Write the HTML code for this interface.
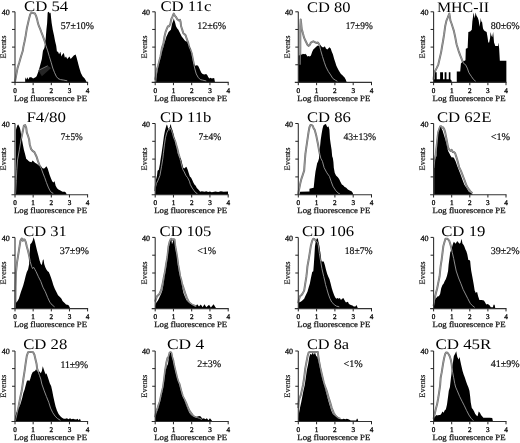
<!DOCTYPE html>
<html><head><meta charset="utf-8"><style>
html,body{margin:0;padding:0;background:#fff;}
svg{display:block;will-change:transform;}
text{font-family:"Liberation Serif",serif;fill:#111;text-rendering:geometricPrecision;}
.b{fill:#000;stroke:none;}
.g{fill:none;stroke:#727272;stroke-width:2.0;stroke-linejoin:round;}
.g2{fill:none;stroke:#9c9c9c;stroke-width:0.9;stroke-linejoin:round;}
.ax{fill:none;stroke:#333;stroke-width:1.1;}
.tk{fill:none;stroke:#222;stroke-width:1.0;}
.xl{font-size:7.2px;text-anchor:middle;fill:#111;stroke:#111;stroke-width:0.35;}
.xt{font-size:8.1px;fill:#111;stroke:#111;stroke-width:0.25;}
.yl{font-size:8px;text-anchor:end;fill:#111;stroke:#111;stroke-width:0.3;}
.ev{font-size:8.4px;text-anchor:middle;fill:#111;stroke:#111;stroke-width:0.15;}
.ti{font-size:14.6px;fill:#000;}
.pc{font-size:10.2px;fill:#111;stroke:#111;stroke-width:0.2;}
</style></head><body>
<svg width="520" height="443" viewBox="0 0 520 443" xmlns="http://www.w3.org/2000/svg">
<rect width="520" height="443" fill="#fff"/>
<g><polyline class="g" points="15,81.87 15.36,79.58 16.45,73.93 17.54,68.1 19.36,62.28 20.99,56.45 22.8,50.81 23.35,47.1 24.62,41.28 25.71,35.45 26.8,28.57 28.07,22.92 29.16,18.15 30.25,14.27 31.52,12.51 33.15,13.04 34.97,13.56 36.05,15.86 37.14,19.39 37.87,22.92 38.96,26.27 40.05,28.57 41.32,32.1 42.41,34.92 43.5,37.92 44.77,41.28 45.85,45.51 47.67,50.81 49.3,56.45 51.12,62.28 52.75,68.1 54.57,72.69 56.2,76.22 58.02,78.52 60.38,79.58 63.82,80.11 67.27,80.81"/><polygon class="b" points="25.16,82.4 25.16,82.4 25.16,77.28 26.25,79.58 27.34,77.28 28.43,79.58 29.52,77.28 31.34,77.28 33.15,78.52 35.51,77.28 36.6,76.22 38.41,71.46 40.05,65.81 41.86,58.93 42.95,50.81 44.4,47.98 45.13,43.57 45.85,36.69 46.4,29.8 47.13,22.92 47.67,12.51 48.76,11.8 49.85,13.56 50.57,12.51 51.12,18.15 51.66,22.92 52.75,29.8 54.02,35.45 55.11,41.28 56.2,45.86 56.93,51.51 58.02,51.87 59.1,54.16 60.38,51.87 61.46,56.45 62.55,54.16 63.82,53.1 64.91,57.69 66,56.45 67.27,58.93 68.36,57.69 69.45,56.45 70.72,58.93 71.81,57.69 73.81,55.4 75.62,54.51 76.53,57.16 77.44,60.69 78.34,64.22 79.25,67.75 80.88,73.05 82.7,76.58 84.51,78.34 86.15,80.99 86.69,82.4 86.69,82.4"/><polygon style="fill:#262626" points="38.41,70.4 47.67,65.81 51.12,68.1 41.86,76.22"/><polyline style="stroke:#8a8a8a;stroke-width:0.8;fill:none" points="38.41,70.4 47.67,65.81"/><polyline class="g2" points="15,81.87 15.36,79.58 16.45,73.93 17.54,68.1 19.36,62.28 20.99,56.45 22.8,50.81 23.35,47.1 24.62,41.28 25.71,35.45 26.8,28.57 28.07,22.92 29.16,18.15 30.25,14.27 31.52,12.51 33.15,13.04 34.97,13.56 36.05,15.86 37.14,19.39 37.87,22.92 38.96,26.27 40.05,28.57 41.32,32.1 42.41,34.92 43.5,37.92 44.77,41.28 45.85,45.51 47.67,50.81 49.3,56.45 51.12,62.28 52.75,68.1 54.57,72.69 56.2,76.22 58.02,78.52 60.38,79.58 63.82,80.11 67.27,80.81"/><path class="ax" d="M15 11.8V82.4M11.5 82.4H88.1" /><path class="tk" d="M12 64.75H15M12 47.1H15M12 29.45H15M12 11.8H15M15 82.4V85.2M33.15 82.4V85.2M51.3 82.4V85.2M69.45 82.4V85.2M87.6 82.4V85.2"/><text class="xl" x="15" y="93">0</text><text class="xl" x="33.15" y="93">1</text><text class="xl" x="51.3" y="93">2</text><text class="xl" x="69.45" y="93">3</text><text class="xl" x="87.6" y="93">4</text><text class="xt" x="14" y="100.7" textLength="73" lengthAdjust="spacingAndGlyphs">Log fluorescence PE</text><text class="yl" x="9.8" y="15.1">40</text><text class="ev" transform="translate(6.3 47) rotate(-90)" textLength="23" lengthAdjust="spacingAndGlyphs">Events</text><text class="ti" x="24" y="10.8" textLength="44.2" lengthAdjust="spacingAndGlyphs">CD 54</text><text class="pc" x="60.7" y="28.6" textLength="33.3" lengthAdjust="spacingAndGlyphs">57±10%</text></g>
<g><polyline class="g" points="155.2,79.75 155.75,77.28 156.66,70.4 158.12,65.81 160.49,56.45 162.13,47.28 163.41,43.57 164.51,36.51 165.6,31.92 166.88,28.57 167.97,26.27 169.07,26.27 170.35,23.98 171.26,19.21 172.35,16.92 173.27,14.62 173.81,13.56 174.91,15.86 176,16.92 177.28,19.21 178.92,20.45 180.02,19.74 180.57,21.68 181.11,26.27 182.21,29.63 183.3,33.16 184.58,34.22 185.68,35.45 186.77,38.98 188.05,42.33 189.14,46.92 190.42,49.75 191.7,53.28 192.79,58.93 194.62,68.1 196.26,73.93 198.09,77.28 200.28,79.58 202.65,80.11 206.3,80.99"/><polygon class="b" points="156.11,82.4 156.11,82.4 156.29,79.58 157.02,73.93 158.12,68.1 159.4,62.28 161.04,56.45 162.32,50.81 163.59,46.57 165.05,41.28 166.33,36.69 167.43,34.39 168.52,32.1 169.8,30.86 170.89,29.8 171.99,23.98 173.27,20.62 173.81,18.15 174.36,20.62 174.91,21.68 176,26.27 177.28,28.57 178.38,29.8 179.47,32.1 180.75,34.39 181.84,36.69 182.94,37.92 184.22,39.69 185.31,40.92 186.95,41.8 188.23,44.45 189.88,47.1 191.15,51.87 192.25,57.69 193.34,63.51 195.17,65.81 196.81,65.28 198.09,65.81 199.18,68.1 200.28,70.4 201.37,72.69 202.65,73.93 204.29,74.46 206.12,73.93 207.21,74.99 208.31,77.28 209.58,78.52 210.68,77.81 211.77,78.52 214.15,77.99 215.06,82.4 215.06,82.4"/><polyline class="g2" points="155.2,79.75 155.75,77.28 156.66,70.4 158.12,65.81 160.49,56.45 162.13,47.28 163.41,43.57 164.51,36.51 165.6,31.92 166.88,28.57 167.97,26.27 169.07,26.27 170.35,23.98 171.26,19.21 172.35,16.92 173.27,14.62 173.81,13.56 174.91,15.86 176,16.92 177.28,19.21 178.92,20.45 180.02,19.74 180.57,21.68 181.11,26.27 182.21,29.63 183.3,33.16 184.58,34.22 185.68,35.45 186.77,38.98 188.05,42.33 189.14,46.92 190.42,49.75 191.7,53.28 192.79,58.93 194.62,68.1 196.26,73.93 198.09,77.28 200.28,79.58 202.65,80.11 206.3,80.99"/><path class="ax" d="M155.2 11.8V82.4M151.7 82.4H228.7" /><path class="tk" d="M152.2 64.75H155.2M152.2 47.1H155.2M152.2 29.45H155.2M152.2 11.8H155.2M155.2 82.4V85.2M173.45 82.4V85.2M191.7 82.4V85.2M209.95 82.4V85.2M228.2 82.4V85.2"/><text class="xl" x="155.2" y="93">0</text><text class="xl" x="173.45" y="93">1</text><text class="xl" x="191.7" y="93">2</text><text class="xl" x="209.95" y="93">3</text><text class="xl" x="228.2" y="93">4</text><text class="xt" x="154.2" y="100.7" textLength="73" lengthAdjust="spacingAndGlyphs">Log fluorescence PE</text><text class="yl" x="150" y="15.1">40</text><text class="ev" transform="translate(146.5 47) rotate(-90)" textLength="23" lengthAdjust="spacingAndGlyphs">Events</text><text class="ti" x="160.4" y="11" textLength="51" lengthAdjust="spacingAndGlyphs">CD 11c</text><text class="pc" x="197.2" y="28.75" textLength="29" lengthAdjust="spacingAndGlyphs">12±6%</text></g>
<g><polyline class="g" points="300.13,64.75 300.31,47.98 300.31,26.27 300.68,19.39 301.23,23.98 301.78,29.8 302.33,30.86 302.88,33.16 304.16,37.92 305.25,40.22 306.35,42.51 307.45,44.81 308.73,45.86 309.83,44.81 310.93,42.51 312.21,41.8 313.31,41.28 314.4,41.8 315.69,42.51 316.78,43.04 317.88,42.51 319.16,44.28 320.81,50.81 322.46,56.45 324.29,62.28 325.93,66.87 328.31,71.46 330.69,74.99 332.89,78.52 335.27,80.11 337.46,81.34"/><polygon class="b" points="298.3,82.4 298.3,82.4 298.3,55.4 299.4,55.4 300.68,54.16 301.78,54.87 302.88,53.63 304.16,54.16 305.25,53.63 306.35,54.87 307.45,56.45 308.73,55.93 309.83,56.45 310.93,55.4 312.21,51.87 313.31,49.57 314.4,48.51 315.69,47.28 316.78,46.22 317.88,45.51 319.16,46.22 320.26,44.98 321.36,46.22 322.46,47.28 323.74,47.28 324.84,46.22 325.93,48.51 327.21,49.57 328.31,48.51 329.41,47.28 330.69,48.51 331.79,51.87 332.89,54.16 334.17,58.93 335.27,62.28 336.36,65.81 337.46,68.1 338.74,70.4 339.84,72.16 340.94,73.93 342.22,74.99 343.32,76.22 344.42,77.28 345.7,79.58 346.8,82.4 346.8,82.4"/><polyline class="g2" points="300.13,64.75 300.31,47.98 300.31,26.27 300.68,19.39 301.23,23.98 301.78,29.8 302.33,30.86 302.88,33.16 304.16,37.92 305.25,40.22 306.35,42.51 307.45,44.81 308.73,45.86 309.83,44.81 310.93,42.51 312.21,41.8 313.31,41.28 314.4,41.8 315.69,42.51 316.78,43.04 317.88,42.51 319.16,44.28 320.81,50.81 322.46,56.45 324.29,62.28 325.93,66.87 328.31,71.46 330.69,74.99 332.89,78.52 335.27,80.11 337.46,81.34"/><path class="ax" d="M298.3 11.8V82.4M294.8 82.4H372" /><path class="tk" d="M295.3 64.75H298.3M295.3 47.1H298.3M295.3 29.45H298.3M295.3 11.8H298.3M298.3 82.4V85.2M316.6 82.4V85.2M334.9 82.4V85.2M353.2 82.4V85.2M371.5 82.4V85.2"/><text class="xl" x="298.3" y="93">0</text><text class="xl" x="316.6" y="93">1</text><text class="xl" x="334.9" y="93">2</text><text class="xl" x="353.2" y="93">3</text><text class="xl" x="371.5" y="93">4</text><text class="xt" x="297.3" y="100.7" textLength="73" lengthAdjust="spacingAndGlyphs">Log fluorescence PE</text><text class="yl" x="293.1" y="15.1">40</text><text class="ev" transform="translate(289.6 47) rotate(-90)" textLength="23" lengthAdjust="spacingAndGlyphs">Events</text><text class="ti" x="306.9" y="11.6" textLength="43.5" lengthAdjust="spacingAndGlyphs">CD 80</text><text class="pc" x="345.7" y="28.75" textLength="27" lengthAdjust="spacingAndGlyphs">17±9%</text></g>
<g><polyline class="g" points="433.6,79.75 433.78,77.28 434.87,71.46 436.68,68.1 438.31,64.57 439.57,58.93 441.2,51.87 442.11,46.22 443.01,41.28 444.1,34.39 445.18,26.27 446.45,20.62 447.54,18.15 448.8,14.8 449.35,13.56 449.89,17.09 450.43,20.62 451.7,23.98 452.79,27.51 453.87,30.86 455.14,36.69 456.23,42.51 456.77,44.98 458.58,50.81 460.21,55.4 462.02,59.98 463.65,63.51 465.46,64.57 467.27,68.1 468.9,72.69 471.25,76.22 473.6,79.58 475.77,81.34"/><polygon class="b" points="433.6,82.4 433.6,82.4 433.6,79.22 434.87,79.22 434.87,72.16 436.68,72.16 436.68,79.22 440.12,79.22 440.12,72.16 443.01,72.16 443.01,79.22 444.64,79.22 444.64,72.16 446.45,72.16 446.45,79.22 448.8,79.22 448.8,72.16 450.43,72.16 450.43,79.22 451.7,80.64 451.7,82.4 456.77,82.4 456.77,71.46 460.21,71.46 460.93,63.51 462.02,62.28 463.65,61.22 465.46,60.34 465.82,48.87 467.63,47.98 468.35,32.1 470.16,31.57 471.79,29.8 472.33,21.68 473.6,12.51 474.69,18.15 475.59,12.51 476.5,15.86 477.76,17.8 478.67,20.45 479.57,26.63 480.48,20.45 480.84,17.8 481.2,21.33 482.11,22.21 483.01,28.39 483.92,30.16 484.82,31.04 486.63,31.92 487.54,37.22 488.26,42.51 489.17,42.51 490.07,38.1 490.62,31.92 491.34,35.45 492.24,37.22 493.15,31.92 494.05,42.51 495.32,46.04 498.04,46.04 498.4,42.51 499.12,47.98 499.85,60.69 506.36,60.69 506.36,82.4 506.36,82.4"/><polyline class="g2" points="433.6,79.75 433.78,77.28 434.87,71.46 436.68,68.1 438.31,64.57 439.57,58.93 441.2,51.87 442.11,46.22 443.01,41.28 444.1,34.39 445.18,26.27 446.45,20.62 447.54,18.15 448.8,14.8 449.35,13.56 449.89,17.09 450.43,20.62 451.7,23.98 452.79,27.51 453.87,30.86 455.14,36.69 456.23,42.51 456.77,44.98 458.58,50.81 460.21,55.4 462.02,59.98 463.65,63.51 465.46,64.57 467.27,68.1 468.9,72.69 471.25,76.22 473.6,79.58 475.77,81.34"/><path class="ax" d="M433.6 11.8V82.4M430.1 82.4H506.5" /><path class="tk" d="M430.6 64.75H433.6M430.6 47.1H433.6M430.6 29.45H433.6M430.6 11.8H433.6M433.6 82.4V85.2M451.7 82.4V85.2M469.8 82.4V85.2M487.9 82.4V85.2M506 82.4V85.2"/><text class="xl" x="433.6" y="93">0</text><text class="xl" x="451.7" y="93">1</text><text class="xl" x="469.8" y="93">2</text><text class="xl" x="487.9" y="93">3</text><text class="xl" x="506" y="93">4</text><text class="xt" x="432.6" y="100.7" textLength="73" lengthAdjust="spacingAndGlyphs">Log fluorescence PE</text><text class="yl" x="428.4" y="15.1">40</text><text class="ev" transform="translate(424.9 47) rotate(-90)" textLength="23" lengthAdjust="spacingAndGlyphs">Events</text><text class="ti" x="436.9" y="11.6" textLength="52.25" lengthAdjust="spacingAndGlyphs">MHC-II</text><text class="pc" x="490.7" y="28.75" textLength="29" lengthAdjust="spacingAndGlyphs">80±6%</text></g>
<g><polyline class="g" points="15.54,193.99 16.27,180.46 16.82,169.78 17.54,159.99 19.36,149.84 20.99,139.52 22.8,131.33 23.89,125.64 25.16,125.1 26.25,127.95 26.8,132.58 28.07,135.96 29.16,139.52 29.7,144.15 30.97,148.78 32.61,150.91 34.42,152.16 35.51,154.47 36.6,156.79 37.87,160.88 39.5,165.15 41.32,168.53 42.95,173.16 44.77,177.79 46.4,182.42 48.21,187.05 49.85,190.43 51.66,192.74 53.3,193.28"/><polygon class="b" points="15.54,194.7 15.54,194.7 15.91,159.99 15.91,130.26 16.45,127.95 17.54,125.1 18.27,124.39 19.36,126.7 19.9,127.95 20.45,130.26 20.99,133.65 21.72,138.27 22.8,144.15 23.89,149.84 25.16,154.47 26.25,159.1 26.8,159.28 29.16,161.59 31.52,162.13 32.61,160.52 33.69,161.59 34.97,162.84 37.14,163.91 38.41,165.15 40.77,166.22 41.86,167.47 42.95,168.53 44.22,168.53 45.31,167.47 46.4,166.22 47.67,168.53 48.76,171.92 49.85,175.48 51.12,178.86 52.21,181.17 53.3,182.42 54.57,181.17 55.66,185.8 56.93,188.11 58.02,189.36 60.38,190.43 62.55,191.67 64.91,191.67 66,192.74 66.73,194.7 66.73,194.7"/><polyline class="g2" points="15.54,193.99 16.27,180.46 16.82,169.78 17.54,159.99 19.36,149.84 20.99,139.52 22.8,131.33 23.89,125.64 25.16,125.1 26.25,127.95 26.8,132.58 28.07,135.96 29.16,139.52 29.7,144.15 30.97,148.78 32.61,150.91 34.42,152.16 35.51,154.47 36.6,156.79 37.87,160.88 39.5,165.15 41.32,168.53 42.95,173.16 44.77,177.79 46.4,182.42 48.21,187.05 49.85,190.43 51.66,192.74 53.3,193.28"/><path class="ax" d="M15 123.5V194.7M11.5 194.7H88.1" /><path class="tk" d="M12 176.9H15M12 159.1H15M12 141.3H15M12 123.5H15M15 194.7V197.5M33.15 194.7V197.5M51.3 194.7V197.5M69.45 194.7V197.5M87.6 194.7V197.5"/><text class="xl" x="15" y="205.3">0</text><text class="xl" x="33.15" y="205.3">1</text><text class="xl" x="51.3" y="205.3">2</text><text class="xl" x="69.45" y="205.3">3</text><text class="xl" x="87.6" y="205.3">4</text><text class="xt" x="14" y="213" textLength="73" lengthAdjust="spacingAndGlyphs">Log fluorescence PE</text><text class="yl" x="9.8" y="126.8">40</text><text class="ev" transform="translate(6.3 159) rotate(-90)" textLength="23" lengthAdjust="spacingAndGlyphs">Events</text><text class="ti" x="26.4" y="121.7" textLength="39.5" lengthAdjust="spacingAndGlyphs">F4/80</text><text class="pc" x="60.7" y="140" textLength="22" lengthAdjust="spacingAndGlyphs">7±5%</text></g>
<g><polyline class="g" points="155.2,191.14 155.56,187.05 156.48,183.49 158.12,180.1 159.94,175.48 161.59,166.22 162.86,158.21 163.41,153.23 164.51,144.15 165.6,137.21 166.88,132.58 167.97,130.26 169.07,129.02 170.35,127.95 171.44,130.26 172.54,133.65 173.81,138.27 174.91,140.59 176,144.15 177.28,148.78 178.38,153.23 179.84,158.21 180.75,161.59 181.84,166.22 182.94,169.78 184.22,171.92 185.86,175.48 187.69,177.79 189.33,181.17 190.42,184.73 192.25,188.11 193.89,190.43 195.71,192.74 197.36,193.63"/><polygon class="b" points="155.2,194.7 155.2,194.7 155.38,192.92 155.93,180.1 157.02,175.48 157.57,170.85 158.85,169.78 159.94,163.91 160.49,159.99 161.59,153.23 162.86,144.15 163.96,135.96 165.05,130.26 166.33,125.64 166.88,124.39 167.43,125.64 167.97,127.95 169.07,131.33 170.35,124.39 170.89,124.39 171.44,127.95 171.99,129.02 173.27,133.65 174.36,138.27 175.46,144.15 176.73,148.78 177.28,152.16 178.38,155.54 179.47,158.03 180.75,158.21 181.84,162.84 182.94,167.47 184.22,168.53 185.31,167.47 186.41,166.75 187.69,169.78 188.78,173.16 189.88,176.54 191.15,177.79 192.25,180.1 193.34,182.42 194.62,184.73 195.71,185.8 196.81,188.11 198.09,189.36 199.18,190.43 200.28,191.67 201.74,191.14 204.47,191.85 206.3,191.14 208.12,192.03 209.95,191.5 211.77,192.21 215.42,191.5 218.16,192.03 220.9,191.32 223.64,191.85 228.02,191.5 228.02,194.7 228.02,194.7"/><polyline class="g2" points="155.2,191.14 155.56,187.05 156.48,183.49 158.12,180.1 159.94,175.48 161.59,166.22 162.86,158.21 163.41,153.23 164.51,144.15 165.6,137.21 166.88,132.58 167.97,130.26 169.07,129.02 170.35,127.95 171.44,130.26 172.54,133.65 173.81,138.27 174.91,140.59 176,144.15 177.28,148.78 178.38,153.23 179.84,158.21 180.75,161.59 181.84,166.22 182.94,169.78 184.22,171.92 185.86,175.48 187.69,177.79 189.33,181.17 190.42,184.73 192.25,188.11 193.89,190.43 195.71,192.74 197.36,193.63"/><path class="ax" d="M155.2 123.5V194.7M151.7 194.7H228.7" /><path class="tk" d="M152.2 176.9H155.2M152.2 159.1H155.2M152.2 141.3H155.2M152.2 123.5H155.2M155.2 194.7V197.5M173.45 194.7V197.5M191.7 194.7V197.5M209.95 194.7V197.5M228.2 194.7V197.5"/><text class="xl" x="155.2" y="205.3">0</text><text class="xl" x="173.45" y="205.3">1</text><text class="xl" x="191.7" y="205.3">2</text><text class="xl" x="209.95" y="205.3">3</text><text class="xl" x="228.2" y="205.3">4</text><text class="xt" x="154.2" y="213" textLength="73" lengthAdjust="spacingAndGlyphs">Log fluorescence PE</text><text class="yl" x="150" y="126.8">40</text><text class="ev" transform="translate(146.5 159) rotate(-90)" textLength="23" lengthAdjust="spacingAndGlyphs">Events</text><text class="ti" x="159.9" y="121.7" textLength="51.5" lengthAdjust="spacingAndGlyphs">CD 11b</text><text class="pc" x="198.45" y="140" textLength="22.75" lengthAdjust="spacingAndGlyphs">7±4%</text></g>
<g><polyline class="g" points="298.3,194.17 298.67,191.5 299.58,186.87 300.5,182.42 301.41,178.86 302.69,175.12 304.16,170.67 304.52,165.15 305.07,158.03 305.44,153.58 306.35,147.17 307.27,140.94 308.18,134.54 308.73,130.98 309.46,127.24 310.38,125.1 311.84,125.1 312.76,125.99 313.67,128.31 314.59,129.55 315.5,132.76 316.42,136.32 317.15,140.05 318.06,144.5 318.98,149.84 319.89,154.47 320.81,158.21 322.46,161.41 324.1,167.64 326.85,172.81 329.41,176.37 331.24,181.71 332.89,186.16 335.63,190.43 338.19,193.1 340.02,194.17"/><polygon class="b" points="299.4,194.7 299.4,194.7 299.58,193.63 300.13,191.85 309.46,191.5 309.46,188.65 313.67,187.76 314.04,184.2 314.59,178.86 315.5,171.56 316.42,167.11 317.15,163.37 318.06,161.59 318.98,158.57 319.71,150.02 320.63,140.41 321.54,134.18 322.46,129.02 323.37,125.46 324.65,124.57 325.93,124.03 326.85,126.35 327.76,127.24 328.5,126.35 329.41,129.73 329.96,138.63 330.69,143.97 331.61,150.02 332.16,156.25 332.89,158.21 333.44,162.3 333.8,167.64 334.72,172.81 336,175.48 337.83,177.26 339.11,179.04 340.39,181.71 341.85,184.38 343.13,185.27 344.42,186.87 346.25,187.76 347.89,189.54 349.72,190.43 351.55,191.32 352.83,193.1 353.2,194.7 353.2,194.7"/><polyline class="g2" points="298.3,194.17 298.67,191.5 299.58,186.87 300.5,182.42 301.41,178.86 302.69,175.12 304.16,170.67 304.52,165.15 305.07,158.03 305.44,153.58 306.35,147.17 307.27,140.94 308.18,134.54 308.73,130.98 309.46,127.24 310.38,125.1 311.84,125.1 312.76,125.99 313.67,128.31 314.59,129.55 315.5,132.76 316.42,136.32 317.15,140.05 318.06,144.5 318.98,149.84 319.89,154.47 320.81,158.21 322.46,161.41 324.1,167.64 326.85,172.81 329.41,176.37 331.24,181.71 332.89,186.16 335.63,190.43 338.19,193.1 340.02,194.17"/><path class="ax" d="M298.3 123.5V194.7M294.8 194.7H372" /><path class="tk" d="M295.3 176.9H298.3M295.3 159.1H298.3M295.3 141.3H298.3M295.3 123.5H298.3M298.3 194.7V197.5M316.6 194.7V197.5M334.9 194.7V197.5M353.2 194.7V197.5M371.5 194.7V197.5"/><text class="xl" x="298.3" y="205.3">0</text><text class="xl" x="316.6" y="205.3">1</text><text class="xl" x="334.9" y="205.3">2</text><text class="xl" x="353.2" y="205.3">3</text><text class="xl" x="371.5" y="205.3">4</text><text class="xt" x="297.3" y="213" textLength="73" lengthAdjust="spacingAndGlyphs">Log fluorescence PE</text><text class="yl" x="293.1" y="126.8">40</text><text class="ev" transform="translate(289.6 159) rotate(-90)" textLength="23" lengthAdjust="spacingAndGlyphs">Events</text><text class="ti" x="306.9" y="121.7" textLength="44" lengthAdjust="spacingAndGlyphs">CD 86</text><text class="pc" x="343.45" y="140" textLength="32.75" lengthAdjust="spacingAndGlyphs">43±13%</text></g>
<g><polyline class="g" points="433.96,168 434.87,159.1 435.77,154.47 436.86,144.15 438.12,132.58 439.21,129.02 440.12,126.53 441.2,126.17 442.11,127.77 443.01,127.24 444.1,128.84 445.18,132.4 446.09,136.85 446.99,141.66 448.08,147.53 449.35,149.84 450.43,150.91 451.7,149.84 452.79,151.98 453.87,151.98 455.14,153.23 456.23,156.61 457.31,159.99 459.12,167.11 460.93,170.85 462.56,175.12 464.37,179.75 466,184.38 467.81,187.94 470.16,191.14 472.33,193.28"/><polygon class="b" points="434.14,194.7 434.14,194.7 434.14,160.88 435.41,159.1 436.68,155.54 437.22,144.15 437.76,134.89 438.85,131.33 440.12,126.7 441.2,127.95 442.47,130.26 443.56,133.65 444.64,137.21 445.91,141.83 446.99,146.46 448.08,150.91 449.35,153.23 450.43,155.54 451.7,157.5 452.79,157.32 453.87,157.68 455.68,161.59 457.31,166.22 459.12,170.85 460.93,175.48 462.56,180.1 464.37,184.73 466.54,188.11 468.9,191.67 471.25,193.28 472.88,194.7 472.88,194.7"/><polyline class="g2" points="433.96,168 434.87,159.1 435.77,154.47 436.86,144.15 438.12,132.58 439.21,129.02 440.12,126.53 441.2,126.17 442.11,127.77 443.01,127.24 444.1,128.84 445.18,132.4 446.09,136.85 446.99,141.66 448.08,147.53 449.35,149.84 450.43,150.91 451.7,149.84 452.79,151.98 453.87,151.98 455.14,153.23 456.23,156.61 457.31,159.99 459.12,167.11 460.93,170.85 462.56,175.12 464.37,179.75 466,184.38 467.81,187.94 470.16,191.14 472.33,193.28"/><path class="ax" d="M433.6 123.5V194.7M430.1 194.7H506.5" /><path class="tk" d="M430.6 176.9H433.6M430.6 159.1H433.6M430.6 141.3H433.6M430.6 123.5H433.6M433.6 194.7V197.5M451.7 194.7V197.5M469.8 194.7V197.5M487.9 194.7V197.5M506 194.7V197.5"/><text class="xl" x="433.6" y="205.3">0</text><text class="xl" x="451.7" y="205.3">1</text><text class="xl" x="469.8" y="205.3">2</text><text class="xl" x="487.9" y="205.3">3</text><text class="xl" x="506" y="205.3">4</text><text class="xt" x="432.6" y="213" textLength="73" lengthAdjust="spacingAndGlyphs">Log fluorescence PE</text><text class="yl" x="428.4" y="126.8">40</text><text class="ev" transform="translate(424.9 159) rotate(-90)" textLength="23" lengthAdjust="spacingAndGlyphs">Events</text><text class="ti" x="436.9" y="121.7" textLength="54.5" lengthAdjust="spacingAndGlyphs">CD 62E</text><text class="pc" x="490.7" y="140" textLength="19.5" lengthAdjust="spacingAndGlyphs">&lt;1%</text></g>
<g><polyline class="g" points="15.36,308.6 15.54,287.24 15.91,273 17,262.68 18.27,254.67 19.36,247.72 20.45,240.78 21.72,238.47 22.8,240.78 23.35,239.54 24.62,239.54 25.71,241.85 26.8,246.48 28.07,251.11 29.16,255.73 30.25,261.61 31.52,266.24 32.61,268.55 33.69,267.3 34.97,269.62 36.05,271.58 38.41,276.74 40.77,281.37 42.95,287.24 45.31,291.69 47.67,297.56 49.85,302.19 52.21,305.04 54.57,306.82"/><polygon class="b" points="15,308.6 15,308.6 15,305.93 15.73,303.26 16.45,302.19 17.54,300.95 18.81,298.63 19.9,295.25 20.99,291.69 22.26,288.31 23.35,284.93 24.62,280.3 25.71,275.67 26.8,272.11 28.07,269.44 29.16,263.92 29.7,252.35 30.25,244.16 31.52,243.1 32.61,240.78 33.69,237.22 34.97,241.85 36.05,246.48 37.14,251.11 38.41,255.73 39.5,260.36 40.77,263.92 41.86,264.99 42.77,260.36 43.5,259.29 44.22,263.92 45.31,267.3 46.4,269.62 47.67,271.22 48.76,272.11 49.85,274.42 51.12,277.98 52.21,281.37 53.3,284.93 54.57,288.31 55.66,290.62 56.93,292.94 58.02,295.25 59.1,296.32 60.38,297.56 61.46,298.63 62.55,300.95 63.82,302.19 64.91,303.26 66,304.51 68.36,305.04 69.45,306.82 70.18,308.6 70.18,308.6"/><polyline class="g2" points="15.36,308.6 15.54,287.24 15.91,273 17,262.68 18.27,254.67 19.36,247.72 20.45,240.78 21.72,238.47 22.8,240.78 23.35,239.54 24.62,239.54 25.71,241.85 26.8,246.48 28.07,251.11 29.16,255.73 30.25,261.61 31.52,266.24 32.61,268.55 33.69,267.3 34.97,269.62 36.05,271.58 38.41,276.74 40.77,281.37 42.95,287.24 45.31,291.69 47.67,297.56 49.85,302.19 52.21,305.04 54.57,306.82"/><path class="ax" d="M15 237.4V308.6M11.5 308.6H88.1" /><path class="tk" d="M12 290.8H15M12 273H15M12 255.2H15M12 237.4H15M15 308.6V311.4M33.15 308.6V311.4M51.3 308.6V311.4M69.45 308.6V311.4M87.6 308.6V311.4"/><text class="xl" x="15" y="319.2">0</text><text class="xl" x="33.15" y="319.2">1</text><text class="xl" x="51.3" y="319.2">2</text><text class="xl" x="69.45" y="319.2">3</text><text class="xl" x="87.6" y="319.2">4</text><text class="xt" x="14" y="326.9" textLength="73" lengthAdjust="spacingAndGlyphs">Log fluorescence PE</text><text class="yl" x="9.8" y="240.7">40</text><text class="ev" transform="translate(6.3 272.9) rotate(-90)" textLength="23" lengthAdjust="spacingAndGlyphs">Events</text><text class="ti" x="23.15" y="235.5" textLength="43.5" lengthAdjust="spacingAndGlyphs">CD 31</text><text class="pc" x="59.7" y="253.75" textLength="29.25" lengthAdjust="spacingAndGlyphs">37±9%</text></g>
<g><polyline class="g" points="155.2,301.48 156.11,298.63 157.02,296.32 158.12,295.25 159.4,294 160.49,291.69 161.59,288.31 162.86,282.61 163.96,276.74 165.05,271.58 166.15,263.92 167.43,256.98 168.52,246.48 169.62,241.85 170.71,239.18 171.62,238.82 172.54,239.89 173.81,239.18 174.54,239.54 175.27,246.48 176,250.04 177.1,256.98 178.19,264.99 179.47,271.93 180.02,275.67 181.11,279.41 182.21,284.39 183.49,287.95 184.58,291.33 185.68,294.72 186.95,298.1 188.05,300.41 189.14,302.55 191.52,304.33 193.89,305.4 196.26,306.46"/><polygon class="b" points="155.2,308.6 155.2,308.6 155.2,305.93 155.56,304.51 156.48,302.19 157.57,300.95 158.85,298.63 159.94,296.32 161.04,294 162.32,290.62 163.41,284.93 164.51,277.98 165.6,271.58 166.88,263.92 167.97,254.67 169.07,246.48 170.35,240.78 171.44,239.54 171.99,244.16 173.27,240.78 174.36,239.54 174.91,244.16 175.46,250.04 176.73,254.67 177.28,261.61 178.38,268.55 178.92,272.11 180.2,276.74 181.3,282.61 182.39,288.31 183.49,292.94 184.76,296.32 186.41,299.88 188.23,302.19 189.88,303.26 191.7,304.51 193.34,305.57 195.35,306.82 197.17,304.33 199,306.46 200.82,304.51 202.65,307.18 204.47,304.33 206.3,307.18 209.04,304.68 210.86,307.53 213.6,304.33 215.42,307.18 216.52,308.6 216.52,308.6"/><polyline class="g2" points="155.2,301.48 156.11,298.63 157.02,296.32 158.12,295.25 159.4,294 160.49,291.69 161.59,288.31 162.86,282.61 163.96,276.74 165.05,271.58 166.15,263.92 167.43,256.98 168.52,246.48 169.62,241.85 170.71,239.18 171.62,238.82 172.54,239.89 173.81,239.18 174.54,239.54 175.27,246.48 176,250.04 177.1,256.98 178.19,264.99 179.47,271.93 180.02,275.67 181.11,279.41 182.21,284.39 183.49,287.95 184.58,291.33 185.68,294.72 186.95,298.1 188.05,300.41 189.14,302.55 191.52,304.33 193.89,305.4 196.26,306.46"/><path class="ax" d="M155.2 237.4V308.6M151.7 308.6H228.7" /><path class="tk" d="M152.2 290.8H155.2M152.2 273H155.2M152.2 255.2H155.2M152.2 237.4H155.2M155.2 308.6V311.4M173.45 308.6V311.4M191.7 308.6V311.4M209.95 308.6V311.4M228.2 308.6V311.4"/><text class="xl" x="155.2" y="319.2">0</text><text class="xl" x="173.45" y="319.2">1</text><text class="xl" x="191.7" y="319.2">2</text><text class="xl" x="209.95" y="319.2">3</text><text class="xl" x="228.2" y="319.2">4</text><text class="xt" x="154.2" y="326.9" textLength="73" lengthAdjust="spacingAndGlyphs">Log fluorescence PE</text><text class="yl" x="150" y="240.7">40</text><text class="ev" transform="translate(146.5 272.9) rotate(-90)" textLength="23" lengthAdjust="spacingAndGlyphs">Events</text><text class="ti" x="159.4" y="235.5" textLength="52" lengthAdjust="spacingAndGlyphs">CD 105</text><text class="pc" x="197.2" y="253.75" textLength="19" lengthAdjust="spacingAndGlyphs">&lt;1%</text></g>
<g><polyline class="g" points="298.3,303.26 298.85,299.88 299.95,296.32 301.23,295.25 302.33,294 304.16,290.62 305.25,283.68 306.35,276.74 306.9,272.11 307.45,266.24 308.73,259.29 309.83,252.35 310.93,245.41 312.21,240.78 313.31,238.82 314.4,239 315.69,240.78 316.78,241.32 317.88,243.63 318.25,245.05 319.35,253.42 320.63,261.25 321.91,268.55 323.74,276.56 324.84,281.01 325.57,284.57 326.67,288.31 328.31,294 329.96,298.63 331.79,302.19 334.17,304.51 336.36,306.11 339.29,306.82"/><polygon class="b" points="298.3,308.6 298.3,308.6 298.3,303.26 299.4,302.19 300.68,301.66 301.78,300.95 302.88,299.88 304.16,298.63 305.25,296.32 306.35,294 307.45,291.69 308.73,287.24 309.83,283.68 310.93,277.98 312.21,272.11 313.31,271.22 313.86,263.92 314.4,255.73 314.95,246.48 315.69,241.85 316.78,238.47 317.88,238.47 318.43,241.85 319.16,245.41 319.71,248.79 320.26,252.35 320.81,258.05 321.36,261.61 322.46,261.61 323.74,261.61 324.84,264.99 325.93,269.62 327.21,273.89 328.31,276.74 329.41,279.05 330.69,283.68 331.79,288.31 332.89,291.69 334.17,295.25 335.27,297.56 336.36,298.63 337.46,298.1 338.74,298.63 339.84,298.1 340.94,299.88 342.22,298.63 343.32,298.1 344.42,299.88 345.7,302.19 346.8,302.19 347.89,301.66 348.99,303.97 350.82,305.04 352.47,305.57 353.75,306.46 355.4,306.46 356.49,305.04 357.96,308.6 357.96,308.6"/><polyline class="g2" points="298.3,303.26 298.85,299.88 299.95,296.32 301.23,295.25 302.33,294 304.16,290.62 305.25,283.68 306.35,276.74 306.9,272.11 307.45,266.24 308.73,259.29 309.83,252.35 310.93,245.41 312.21,240.78 313.31,238.82 314.4,239 315.69,240.78 316.78,241.32 317.88,243.63 318.25,245.05 319.35,253.42 320.63,261.25 321.91,268.55 323.74,276.56 324.84,281.01 325.57,284.57 326.67,288.31 328.31,294 329.96,298.63 331.79,302.19 334.17,304.51 336.36,306.11 339.29,306.82"/><path class="ax" d="M298.3 237.4V308.6M294.8 308.6H372" /><path class="tk" d="M295.3 290.8H298.3M295.3 273H298.3M295.3 255.2H298.3M295.3 237.4H298.3M298.3 308.6V311.4M316.6 308.6V311.4M334.9 308.6V311.4M353.2 308.6V311.4M371.5 308.6V311.4"/><text class="xl" x="298.3" y="319.2">0</text><text class="xl" x="316.6" y="319.2">1</text><text class="xl" x="334.9" y="319.2">2</text><text class="xl" x="353.2" y="319.2">3</text><text class="xl" x="371.5" y="319.2">4</text><text class="xt" x="297.3" y="326.9" textLength="73" lengthAdjust="spacingAndGlyphs">Log fluorescence PE</text><text class="yl" x="293.1" y="240.7">40</text><text class="ev" transform="translate(289.6 272.9) rotate(-90)" textLength="23" lengthAdjust="spacingAndGlyphs">Events</text><text class="ti" x="301.9" y="235.5" textLength="52.25" lengthAdjust="spacingAndGlyphs">CD 106</text><text class="pc" x="344.7" y="253.75" textLength="28" lengthAdjust="spacingAndGlyphs">18±7%</text></g>
<g><polyline class="g" points="433.6,305.93 434.14,303.26 434.87,297.56 435.95,292.94 437.22,288.31 438.31,282.61 439.57,276.56 440.12,271.04 440.66,265.88 441.56,260.36 442.47,253.24 443.37,245.94 444.64,241.49 445.55,238.65 447.36,238.65 449.17,240.6 450.07,243.27 451.34,247.72 452.24,252.35 453.69,258.58 454.96,264.99 456.23,271.04 458.58,277.98 460.93,283.68 463.1,289.38 465.46,294 467.81,298.63 470.16,303.26 472.33,305.57 474.69,307.35"/><polygon class="b" points="433.96,308.6 433.96,308.6 433.96,305.04 434.32,303.26 435.41,298.63 436.68,297.56 437.76,296.32 438.85,296.32 440.12,294 441.2,288.31 442.47,284.93 443.56,283.68 444.64,281.37 445.91,279.05 446.99,275.67 448.08,271.04 448.62,264.63 449.53,257.69 450.25,252.35 451.16,250.57 452.06,247.01 452.97,243.63 453.87,241.67 454.78,242.74 455.68,243.63 456.77,241.67 457.67,241.32 458.58,242.74 459.66,243.63 460.57,242.74 461.47,238.82 462.56,243.63 463.47,244.7 464.37,246.48 465.46,249.5 466.36,251.28 467.27,254.31 468.35,260.01 469.26,260.01 470.16,260.9 470.71,266.77 471.25,271.04 472.33,276.74 473.6,283.68 474.69,290.62 475.77,292.94 477.04,291.69 478.13,296.32 479.39,299.88 481.57,299.88 483.92,300.41 485,302.19 486.27,304.51 487.36,303.97 488.62,304.51 489.71,305.57 490.8,307.35 492.97,307.35 493.51,304.68 494.6,304.68 495.32,308.6 495.32,308.6"/><polyline class="g2" points="433.6,305.93 434.14,303.26 434.87,297.56 435.95,292.94 437.22,288.31 438.31,282.61 439.57,276.56 440.12,271.04 440.66,265.88 441.56,260.36 442.47,253.24 443.37,245.94 444.64,241.49 445.55,238.65 447.36,238.65 449.17,240.6 450.07,243.27 451.34,247.72 452.24,252.35 453.69,258.58 454.96,264.99 456.23,271.04 458.58,277.98 460.93,283.68 463.1,289.38 465.46,294 467.81,298.63 470.16,303.26 472.33,305.57 474.69,307.35"/><path class="ax" d="M433.6 237.4V308.6M430.1 308.6H506.5" /><path class="tk" d="M430.6 290.8H433.6M430.6 273H433.6M430.6 255.2H433.6M430.6 237.4H433.6M433.6 308.6V311.4M451.7 308.6V311.4M469.8 308.6V311.4M487.9 308.6V311.4M506 308.6V311.4"/><text class="xl" x="433.6" y="319.2">0</text><text class="xl" x="451.7" y="319.2">1</text><text class="xl" x="469.8" y="319.2">2</text><text class="xl" x="487.9" y="319.2">3</text><text class="xl" x="506" y="319.2">4</text><text class="xt" x="432.6" y="326.9" textLength="73" lengthAdjust="spacingAndGlyphs">Log fluorescence PE</text><text class="yl" x="428.4" y="240.7">40</text><text class="ev" transform="translate(424.9 272.9) rotate(-90)" textLength="23" lengthAdjust="spacingAndGlyphs">Events</text><text class="ti" x="441.2" y="235.5" textLength="44.2" lengthAdjust="spacingAndGlyphs">CD 19</text><text class="pc" x="490.7" y="253.75" textLength="29" lengthAdjust="spacingAndGlyphs">39±2%</text></g>
<g><polyline class="g" points="15.36,420.97 15.91,418.5 17,413.92 18.27,408.11 19.36,402.29 20.45,396.47 21.72,390.83 22.44,385.9 23.35,379.02 24.62,370.92 25.71,362.81 26.8,355.94 28.07,352.23 30.25,351.88 33.15,352.23 34.42,354.7 35.51,359.46 36.6,364.04 37.14,368.62 38.41,372.15 39.5,375.5 40.77,379.02 41.86,384.13 44.22,390.83 46.4,396.47 48.76,402.29 50.57,408.11 52.75,412.69 55.11,416.21 57.47,418.5 60.38,420.27"/><polygon class="b" points="15,421.5 15,421.5 15,417.98 15.36,416.21 16.45,412.69 17.54,410.4 18.81,408.11 19.9,405.81 20.99,402.29 22.26,397.71 23.35,393.12 24.62,389.6 25.71,385.37 26.8,381.31 28.07,380.08 29.16,381.31 30.25,379.02 31.52,374.44 32.61,372.15 33.69,371.44 34.97,370.92 36.05,369.15 37.14,370.92 38.41,372.15 39.5,371.44 40.77,373.21 41.86,370.92 42.77,366.33 43.5,368.62 44.77,372.15 45.85,374.44 46.4,373.21 47.67,376.73 48.76,380.08 49.85,383.61 51.12,385.9 52.21,390.83 53.3,396.47 54.57,402.29 55.66,406.87 56.93,410.4 58.56,413.92 60.38,416.21 62.01,417.8 63.82,418.68 65.46,418.86 66.91,418.33 68.54,419.21 69.99,418.33 71.63,419.21 73.08,418.86 74.53,419.21 76.17,419.56 77.62,418.86 78.52,420.27 79.98,418.86 81.07,421.5 81.07,421.5"/><polyline class="g2" points="15.36,420.97 15.91,418.5 17,413.92 18.27,408.11 19.36,402.29 20.45,396.47 21.72,390.83 22.44,385.9 23.35,379.02 24.62,370.92 25.71,362.81 26.8,355.94 28.07,352.23 30.25,351.88 33.15,352.23 34.42,354.7 35.51,359.46 36.6,364.04 37.14,368.62 38.41,372.15 39.5,375.5 40.77,379.02 41.86,384.13 44.22,390.83 46.4,396.47 48.76,402.29 50.57,408.11 52.75,412.69 55.11,416.21 57.47,418.5 60.38,420.27"/><path class="ax" d="M15 351V421.5M11.5 421.5H88.1" /><path class="tk" d="M12 403.88H15M12 386.25H15M12 368.62H15M12 351H15M15 421.5V424.3M33.15 421.5V424.3M51.3 421.5V424.3M69.45 421.5V424.3M87.6 421.5V424.3"/><text class="xl" x="15" y="432.1">0</text><text class="xl" x="33.15" y="432.1">1</text><text class="xl" x="51.3" y="432.1">2</text><text class="xl" x="69.45" y="432.1">3</text><text class="xl" x="87.6" y="432.1">4</text><text class="xt" x="14" y="439.8" textLength="73" lengthAdjust="spacingAndGlyphs">Log fluorescence PE</text><text class="yl" x="9.8" y="354.3">40</text><text class="ev" transform="translate(6.3 386.15) rotate(-90)" textLength="23" lengthAdjust="spacingAndGlyphs">Events</text><text class="ti" x="23.2" y="349" textLength="44.1" lengthAdjust="spacingAndGlyphs">CD 28</text><text class="pc" x="60.4" y="367.6" textLength="27.7" lengthAdjust="spacingAndGlyphs">11±9%</text></g>
<g><polyline class="g" points="155.2,417.27 156.29,411.45 157.57,408.11 158.67,404.58 159.94,401.23 161.04,395.42 162.13,390.83 163.05,387.13 164.14,379.02 165.24,369.68 166.33,362.81 167.43,358.23 168.52,356.99 169.62,352.76 170.71,352.23 171.44,353.12 172.17,356.99 173.27,360.52 173.81,364.04 174.91,368.62 176,373.21 177.1,377.79 178.19,381.31 179.47,383.96 181.11,390.48 182.76,396.12 184.58,399.64 186.22,403.17 188.05,407.75 189.69,411.1 191.52,413.57 193.16,415.86 194.98,417.09 197.36,417.62 199.55,418.33 201.92,419.38"/><polygon class="b" points="155.2,421.5 155.2,421.5 155.2,416.21 155.38,414.98 156.48,412.69 157.57,410.4 158.85,406.87 159.94,402.29 161.04,397.71 162.32,391.89 163.41,386.25 164.51,379.02 165.6,370.92 166.88,366.33 167.97,364.04 169.07,355.94 170.35,351.88 171.44,353.64 172.54,359.46 173.81,364.04 174.91,369.68 176,374.44 177.28,379.02 178.38,382.55 179.29,385.02 180.75,390.83 182.39,396.47 184.22,400 185.86,404.58 187.69,409.16 189.33,412.69 191.15,414.98 193.34,416.74 195.71,417.27 197.72,416.39 199.18,416.04 200.82,416.39 202.28,418.86 203.93,418.33 205.39,419.21 206.85,418.33 208.49,420.27 209.95,418.33 211.59,420.27 212.32,421.5 212.32,421.5"/><polyline class="g2" points="155.2,417.27 156.29,411.45 157.57,408.11 158.67,404.58 159.94,401.23 161.04,395.42 162.13,390.83 163.05,387.13 164.14,379.02 165.24,369.68 166.33,362.81 167.43,358.23 168.52,356.99 169.62,352.76 170.71,352.23 171.44,353.12 172.17,356.99 173.27,360.52 173.81,364.04 174.91,368.62 176,373.21 177.1,377.79 178.19,381.31 179.47,383.96 181.11,390.48 182.76,396.12 184.58,399.64 186.22,403.17 188.05,407.75 189.69,411.1 191.52,413.57 193.16,415.86 194.98,417.09 197.36,417.62 199.55,418.33 201.92,419.38"/><path class="ax" d="M155.2 351V421.5M151.7 421.5H228.7" /><path class="tk" d="M152.2 403.88H155.2M152.2 386.25H155.2M152.2 368.62H155.2M152.2 351H155.2M155.2 421.5V424.3M173.45 421.5V424.3M191.7 421.5V424.3M209.95 421.5V424.3M228.2 421.5V424.3"/><text class="xl" x="155.2" y="432.1">0</text><text class="xl" x="173.45" y="432.1">1</text><text class="xl" x="191.7" y="432.1">2</text><text class="xl" x="209.95" y="432.1">3</text><text class="xl" x="228.2" y="432.1">4</text><text class="xt" x="154.2" y="439.8" textLength="73" lengthAdjust="spacingAndGlyphs">Log fluorescence PE</text><text class="yl" x="150" y="354.3">40</text><text class="ev" transform="translate(146.5 386.15) rotate(-90)" textLength="23" lengthAdjust="spacingAndGlyphs">Events</text><text class="ti" x="166.9" y="349" textLength="37.25" lengthAdjust="spacingAndGlyphs">CD 4</text><text class="pc" x="197.2" y="367" textLength="24" lengthAdjust="spacingAndGlyphs">2±3%</text></g>
<g><polyline class="g" points="298.3,408.11 298.67,402.11 299.4,398.76 300.68,395.42 301.78,390.83 303.06,385.02 304.16,377.79 305.25,368.62 306.35,362.81 307.63,355.94 308.73,352.41 309.65,352.06 317.88,352.06 318.06,354.7 319.16,361.75 320.26,367.39 321.36,372.15 322.64,377.79 323.74,382.55 324.84,385.9 326.67,390.83 328.31,396.47 330.14,402.29 331.79,408.11 333.62,412.69 335.27,415.51 337.64,417.8 340.39,418.86"/><polygon class="b" points="298.3,421.5 298.3,421.5 298.3,418.5 298.85,413.92 299.95,408.11 301.23,402.29 302.33,396.47 303.42,390.83 304.7,385.37 305.8,377.79 306.9,369.68 308.18,364.04 309.28,356.99 310.38,353.64 311.66,354.7 312.76,352.41 313.86,354.7 314.95,352.41 316.23,355.94 317.33,356.99 318.43,361.75 319.71,367.39 320.81,373.21 321.91,377.79 323.19,382.55 324.29,385.9 325.93,391.89 327.76,398.76 329.41,404.58 331.24,410.4 332.89,413.92 335.27,416.21 337.46,417.8 339.84,419.03 342.22,419.21 343.68,418.86 345.33,419.21 346.8,418.86 348.44,419.21 349.91,419.91 350.64,420.62 356.13,420.62 356.86,418.86 357.59,418.86 358.32,421.5 358.32,421.5"/><polyline class="g2" points="298.3,408.11 298.67,402.11 299.4,398.76 300.68,395.42 301.78,390.83 303.06,385.02 304.16,377.79 305.25,368.62 306.35,362.81 307.63,355.94 308.73,352.41 309.65,352.06 317.88,352.06 318.06,354.7 319.16,361.75 320.26,367.39 321.36,372.15 322.64,377.79 323.74,382.55 324.84,385.9 326.67,390.83 328.31,396.47 330.14,402.29 331.79,408.11 333.62,412.69 335.27,415.51 337.64,417.8 340.39,418.86"/><path class="ax" d="M298.3 351V421.5M294.8 421.5H372" /><path class="tk" d="M295.3 403.88H298.3M295.3 386.25H298.3M295.3 368.62H298.3M295.3 351H298.3M298.3 421.5V424.3M316.6 421.5V424.3M334.9 421.5V424.3M353.2 421.5V424.3M371.5 421.5V424.3"/><text class="xl" x="298.3" y="432.1">0</text><text class="xl" x="316.6" y="432.1">1</text><text class="xl" x="334.9" y="432.1">2</text><text class="xl" x="353.2" y="432.1">3</text><text class="xl" x="371.5" y="432.1">4</text><text class="xt" x="297.3" y="439.8" textLength="73" lengthAdjust="spacingAndGlyphs">Log fluorescence PE</text><text class="yl" x="293.1" y="354.3">40</text><text class="ev" transform="translate(289.6 386.15) rotate(-90)" textLength="23" lengthAdjust="spacingAndGlyphs">Events</text><text class="ti" x="306.9" y="349" textLength="42.25" lengthAdjust="spacingAndGlyphs">CD 8a</text><text class="pc" x="343.45" y="367" textLength="19.25" lengthAdjust="spacingAndGlyphs">&lt;1%</text></g>
<g><polyline class="g" points="433.6,418.86 433.96,417.27 434.69,413.92 435.77,409.16 437.04,404.58 438.12,398.76 439.21,391.89 440.12,385.37 440.66,377.79 441.75,372.15 443.01,364.04 444.1,358.23 445.18,354 446.09,352.41 447.54,352.76 448.8,354.52 449.71,356.29 450.8,359.81 451.52,363.34 452.06,367.39 452.61,372.15 453.69,377.79 454.78,383.61 455.68,387.13 457.31,390.83 459.66,396.47 462.02,401.23 464.37,405.81 466.54,410.4 468.9,414.98 471.25,418.5 473.6,420.8"/><polygon class="b" points="433.6,421.5 433.6,421.5 433.6,418.86 434.32,417.27 435.41,416.21 436.68,414.98 437.76,415.51 438.85,414.98 440.12,414.98 441.2,413.92 442.47,411.45 443.56,412.69 444.64,410.4 445.91,409.16 446.99,404.58 448.08,396.47 448.8,390.83 449.89,387.13 450.98,377.79 451.7,372.15 452.79,364.04 453.33,359.46 453.87,355.94 455.14,353.64 456.23,351.35 457.31,356.99 458.58,359.46 459.66,356.99 460.21,360.52 461.47,366.33 462.56,370.92 463.65,374.44 464.91,377.79 466,381.31 467.27,384.84 468.35,387.13 469.44,390.83 470.16,396.47 470.71,402.29 471.79,408.11 472.88,409.16 474.14,411.45 475.23,413.92 476.5,415.51 477.58,416.21 478.67,411.45 479.94,412.69 481.02,414.98 482.11,416.21 483.38,417.8 486.27,417.8 489.71,417.8 492.24,417.98 492.97,421.5 492.97,421.5"/><polyline class="g2" points="433.6,418.86 433.96,417.27 434.69,413.92 435.77,409.16 437.04,404.58 438.12,398.76 439.21,391.89 440.12,385.37 440.66,377.79 441.75,372.15 443.01,364.04 444.1,358.23 445.18,354 446.09,352.41 447.54,352.76 448.8,354.52 449.71,356.29 450.8,359.81 451.52,363.34 452.06,367.39 452.61,372.15 453.69,377.79 454.78,383.61 455.68,387.13 457.31,390.83 459.66,396.47 462.02,401.23 464.37,405.81 466.54,410.4 468.9,414.98 471.25,418.5 473.6,420.8"/><path class="ax" d="M433.6 351V421.5M430.1 421.5H506.5" /><path class="tk" d="M430.6 403.88H433.6M430.6 386.25H433.6M430.6 368.62H433.6M430.6 351H433.6M433.6 421.5V424.3M451.7 421.5V424.3M469.8 421.5V424.3M487.9 421.5V424.3M506 421.5V424.3"/><text class="xl" x="433.6" y="432.1">0</text><text class="xl" x="451.7" y="432.1">1</text><text class="xl" x="469.8" y="432.1">2</text><text class="xl" x="487.9" y="432.1">3</text><text class="xl" x="506" y="432.1">4</text><text class="xt" x="432.6" y="439.8" textLength="73" lengthAdjust="spacingAndGlyphs">Log fluorescence PE</text><text class="yl" x="428.4" y="354.3">40</text><text class="ev" transform="translate(424.9 386.15) rotate(-90)" textLength="23" lengthAdjust="spacingAndGlyphs">Events</text><text class="ti" x="435.4" y="349" textLength="56" lengthAdjust="spacingAndGlyphs">CD 45R</text><text class="pc" x="490.7" y="367" textLength="29" lengthAdjust="spacingAndGlyphs">41±9%</text></g>
</svg></body></html>
